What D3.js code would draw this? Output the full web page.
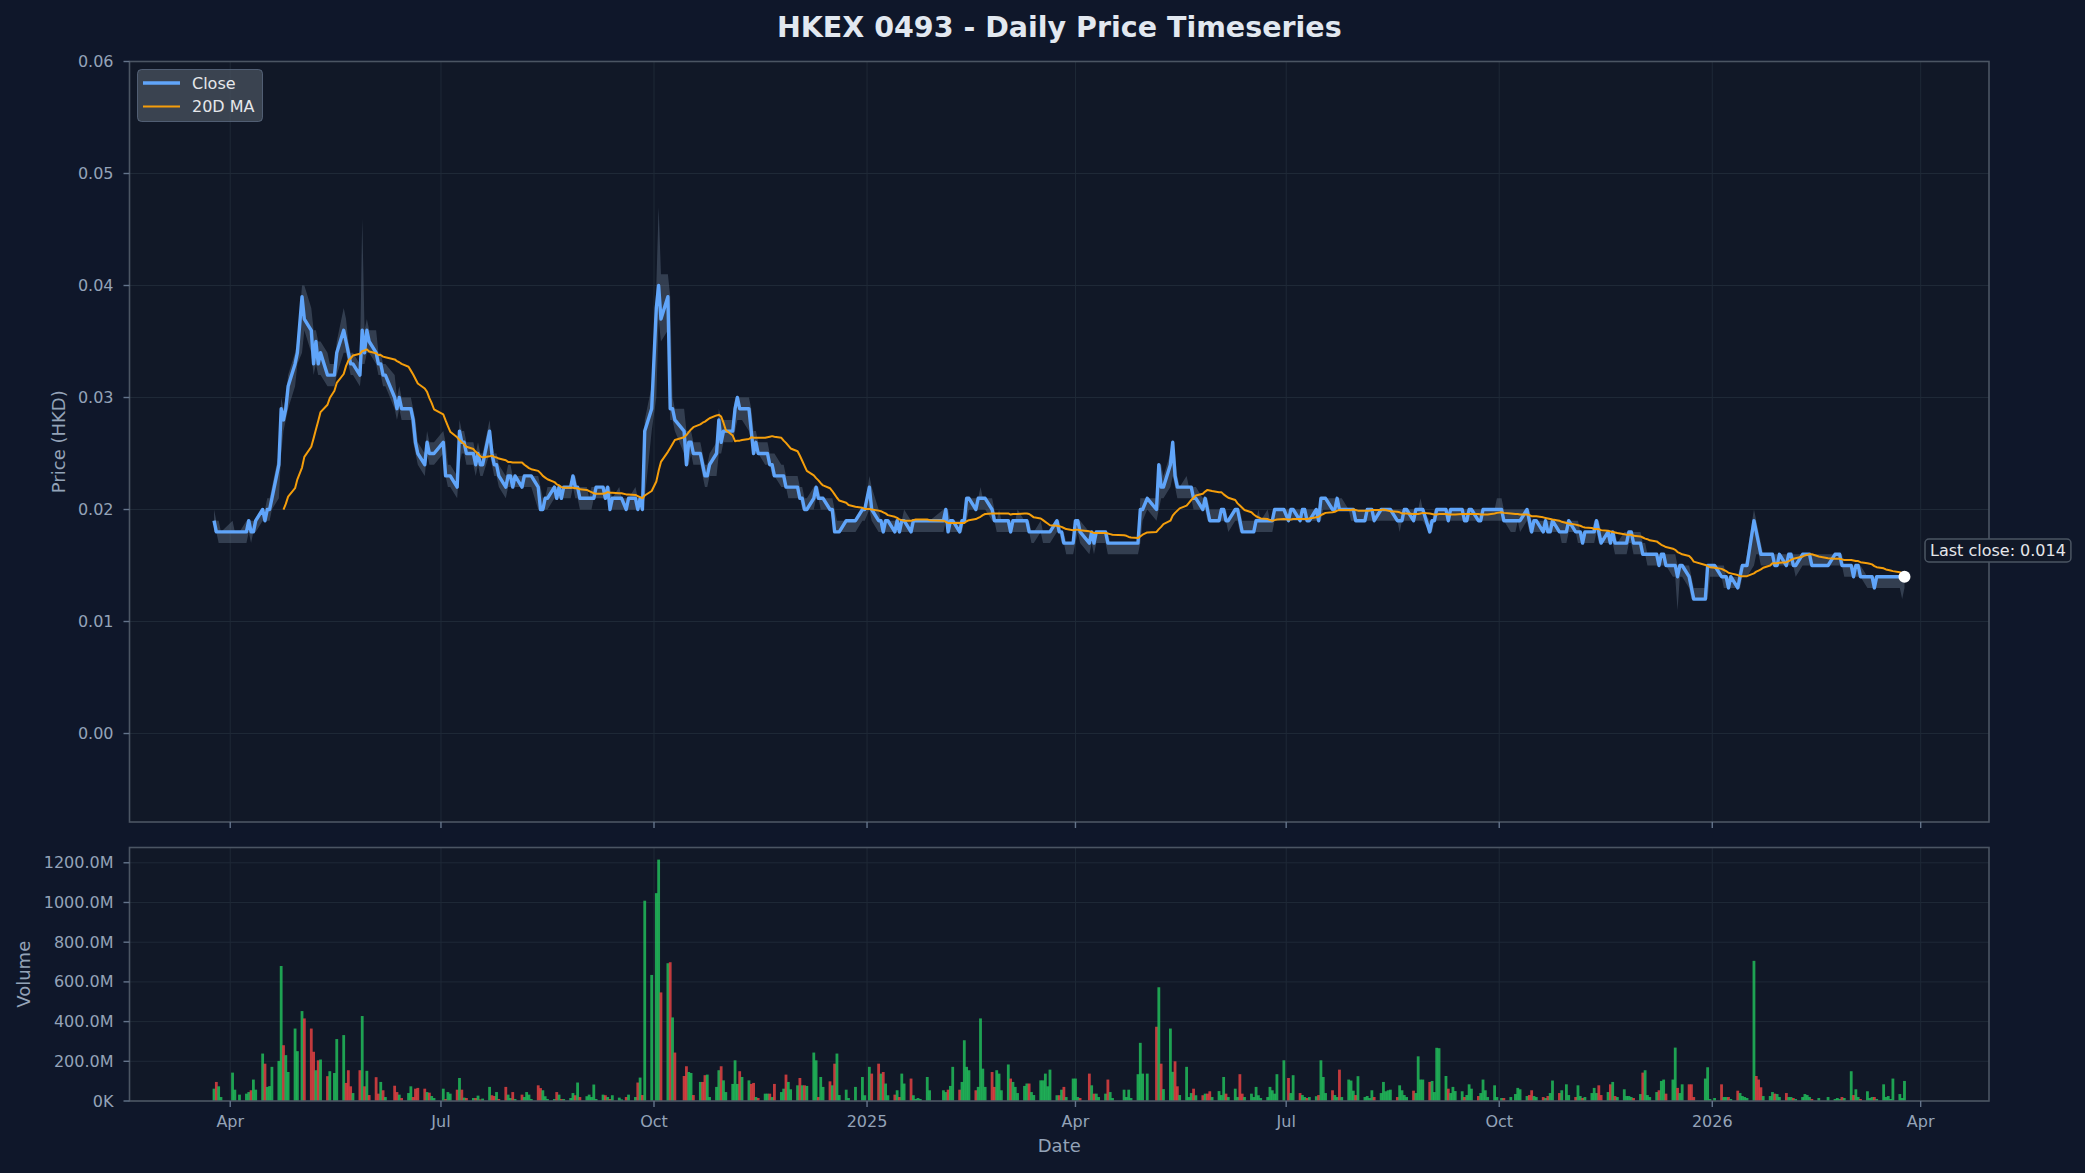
<!DOCTYPE html>
<html><head><meta charset="utf-8">
<script src="https://cdn.jsdelivr.net/npm/d3@7"></script>
<style>
html,body{margin:0;padding:0;background:#0f172a;}
svg{display:block;font-family:"DejaVu Sans",sans-serif;}
</style></head><body>
<svg id="chart" width="2085" height="1173"></svg>
<script>
// ---------------- DATA ----------------
const TITLE = "HKEX 0493 - Daily Price Timeseries";
const firstDay = "2024-03-25", lastDay = "2026-03-25";
const holidays = [
 "2024-03-29","2024-04-01","2024-04-04","2024-05-01","2024-05-15","2024-06-10","2024-07-01","2024-09-18","2024-10-01","2024-10-11","2024-12-25","2024-12-26",
 "2025-01-01","2025-01-29","2025-01-30","2025-01-31","2025-04-04","2025-04-18","2025-04-21","2025-05-01","2025-05-05","2025-07-01","2025-10-01","2025-10-07","2025-10-29","2025-12-25","2025-12-26",
 "2026-01-01","2026-02-17","2026-02-18","2026-02-19"];
// prices in thousandths of HKD (19 = 0.019)
const closeK = [
 19,18,18,18,
 18,18,18,18,19,18,18,19,20,19,20,20,21,24,29,28,29,31,33,34,
 39,37,36,33,35,33,34,32,32,32,34,36,35,34,33,33,32,36,34,36,35,
 34,33,33,32,32,30,29,30,29,29,29,28,26,25,24,26,25,25,25,
 26,23,23,23,22,27,26,26,25,25,24,25,24,24,27,25,24,24,23,22,23,23,
 22,23,22,23,23,23,23,22,20,20,21,21,22,21,22,21,22,22,23,22,22,21,
 21,21,21,21,22,22,21,22,20,21,21,21,20,21,21,20,21,20,27,29,
 38,40,37,39,29,29,28,27,24,26,26,25,25,24,23,23,24,25,28,26,27,
 27,27,29,30,29,29,29,27,25,26,25,25,25,24,24,23,23,23,22,22,22,
 22,21,21,20,20,21,22,21,21,21,20,20,18,18,18,19,19,19,20,20,
 22,20,19,19,18,19,19,18,19,18,19,19,18,19,19,19,19,19,19,
 19,20,18,19,19,18,19,19,21,21,20,21,21,21,21,20,19,19,19,19,
 19,18,19,19,19,19,19,18,18,18,18,18,18,18,18,19,18,18,17,17,17,
 19,19,18,17,18,17,18,18,18,17,17,17,17,17,17,17,17,20,20,
 21,20,24,22,22,24,26,23,22,22,22,22,22,21,21,20,21,20,19,19,
 19,20,20,19,19,20,20,19,18,18,18,18,19,19,19,19,19,19,20,20,20,
 19,20,20,19,20,20,19,19,20,19,21,21,21,20,20,21,20,20,20,20,20,19,
 19,19,20,20,20,19,20,20,20,20,20,19,19,19,20,20,19,20,20,20,20,
 18,19,19,20,20,20,19,20,20,20,20,19,19,20,20,19,19,20,20,20,20,20,
 20,19,19,19,19,19,20,19,18,19,19,18,19,18,18,19,18,18,18,19,
 18,18,18,17,18,18,18,19,18,17,18,17,18,17,17,17,17,18,18,17,
 17,16,16,16,16,16,15,16,16,15,15,15,14,15,15,14,13,12,12,15,15,
 15,14,14,14,13,14,13,14,15,15,15,19,18,17,16,16,16,16,15,15,16,
 15,16,16,15,15,16,16,16,16,15,15,15,16,16,16,15,15,
 15,14,15,15,14,14,14,14,13,14,14,14,14,14,14,14,14,14];
const highK = [
 20,19,19,18,
 19,18,18,19,19,19,19,19,20,20,21,21,22,25,30,29,30,32,34,35,
 40,40,38,36,36,35,35,34,33,33,35,38,37,35,34,34,33,46,36,37,36,
 36,34,34,33,33,32,30,31,30,30,30,29,28,26,25,27,26,26,26,
 27,26,24,24,23,28,27,27,26,26,25,26,25,25,28,26,25,25,24,23,24,24,
 23,23,23,23,23,23,23,23,22,21,21,22,22,22,22,22,22,22,23,23,22,22,
 22,21,22,22,22,22,22,22,22,21,22,21,21,21,22,21,21,21,28,31,
 40,47,41,41,39,30,29,29,27,27,27,26,26,25,24,24,25,26,29,28,28,
 28,28,30,30,30,30,30,29,27,27,26,26,26,25,25,25,24,24,23,23,23,
 23,22,22,21,21,22,22,22,21,21,21,21,20,19,19,19,19,19,20,20,
 23,22,20,19,19,19,19,19,19,19,19,20,19,19,19,19,19,19,19,
 20,20,20,19,19,19,19,20,21,21,21,21,22,21,21,21,20,19,20,19,
 19,19,19,19,20,19,19,19,18,18,19,18,18,18,18,19,19,18,18,17,17,
 19,19,19,18,18,18,18,18,18,18,17,17,17,17,17,17,17,21,21,
 21,21,24,24,23,25,26,25,23,22,23,22,22,22,22,21,21,21,20,20,
 20,20,20,20,19,20,20,20,19,19,19,19,19,20,19,20,19,19,20,20,20,
 20,20,20,20,20,20,20,20,20,20,21,21,21,21,21,21,21,21,20,20,20,20,
 20,20,20,20,20,20,20,20,20,20,20,20,20,20,20,20,20,20,20,21,20,
 19,19,20,20,20,20,20,20,20,20,20,20,20,20,20,20,20,20,20,20,20,21,
 21,20,20,20,20,20,20,20,19,19,19,19,19,19,19,19,19,19,19,19,
 19,19,18,18,18,18,19,19,19,18,18,18,18,18,17,18,18,18,18,18,
 18,17,17,16,16,16,16,16,16,16,16,16,15,15,15,15,14,13,13,15,15,
 15,15,15,14,14,14,14,15,15,15,16,20,19,18,17,16,16,16,16,16,16,
 16,16,16,16,16,16,16,16,16,16,16,16,16,16,16,16,15,
 15,15,15,15,15,14,14,14,14,14,14,14,14,14,14,14,14,14];
const lowK = [
 18,18,17,17,
 17,17,17,17,18,17,18,18,19,19,19,19,20,21,25,27,28,29,31,33,
 34,36,34,32,33,32,32,31,31,31,32,34,34,33,32,32,31,33,33,34,34,
 33,32,32,31,31,29,28,29,28,28,28,26,25,24,23,25,24,24,24,
 25,23,22,22,21,24,25,25,24,24,23,24,23,23,25,24,23,23,22,21,22,22,
 22,22,22,22,22,22,22,20,20,20,20,20,21,21,21,21,21,21,22,21,21,20,
 20,20,20,21,21,21,21,21,20,20,20,20,20,20,20,20,20,20,21,27,
 30,37,35,36,28,28,27,25,24,24,25,24,24,23,22,22,23,23,25,25,26,
 26,26,27,28,28,28,27,26,25,25,25,24,24,24,23,23,22,22,22,21,21,
 21,21,20,20,20,20,21,21,20,20,20,19,18,18,18,18,18,18,19,19,
 20,19,18,18,18,18,18,18,18,18,18,18,18,18,18,18,18,18,18,
 18,19,18,18,18,18,18,19,19,20,20,20,20,20,20,19,19,18,18,18,
 18,18,18,18,18,18,18,18,17,17,18,17,17,17,17,18,18,17,17,16,16,
 17,18,17,16,17,16,17,17,17,16,16,16,16,16,16,16,16,17,19,
 20,19,20,21,21,22,23,22,21,21,21,21,21,20,20,20,20,19,19,19,
 19,19,19,19,18,19,19,18,18,18,18,18,18,18,18,18,18,18,19,19,19,
 19,19,19,19,19,19,19,19,19,19,19,20,20,20,20,20,20,20,20,19,19,19,
 19,19,19,19,19,19,19,19,19,19,19,19,18,19,19,19,19,19,19,19,19,
 18,18,19,19,19,19,19,19,19,19,19,19,19,19,19,19,19,19,19,19,19,19,
 19,19,18,18,19,18,19,18,18,18,18,18,18,18,18,18,18,17,17,18,
 18,17,17,17,17,17,17,18,17,17,17,17,17,16,16,16,16,17,17,16,
 16,16,16,15,15,15,15,15,15,15,14,14,11,14,14,13,12,12,12,12,14,
 14,14,13,13,13,13,13,13,14,14,14,15,16,16,15,15,15,15,15,15,15,
 15,15,15,15,14,15,15,15,15,15,15,15,15,15,15,15,14,
 14,14,14,14,14,13,13,13,13,13,13,13,13,13,13,13,12,13];
// daily volume in millions of shares
const volumeM = [
 62,96,74,20,
 143,57,32,37,45,54,108,57,239,188,71,75,172,202,680,281,231,146,365,251,
 453,416,365,248,155,205,209,125,150,141,312,332,91,155,74,40,155,428,74,152,30,
 120,37,96,54,20,77,45,32,15,40,74,20,62,66,62,45,42,25,15,
 62,10,45,37,57,116,57,17,15,15,15,27,8,12,71,29,25,45,10,71,32,15,
 45,10,32,20,45,32,10,79,65,54,24,10,10,45,32,10,10,15,40,29,93,20,
 24,32,20,83,10,32,29,20,10,29,17,8,20,32,20,93,118,30,1009,635,
 1047,1216,547,694,699,421,244,126,175,146,141,30,96,96,130,133,20,71,155,175,104,
 45,86,205,86,150,121,104,86,91,20,15,37,37,37,20,86,45,62,133,96,59,
 79,116,79,79,76,244,205,20,121,71,99,79,188,239,30,57,15,71,121,29,
 172,138,188,138,146,88,29,32,54,20,138,88,113,29,10,15,10,121,54,
 54,45,57,76,172,57,96,306,172,155,54,71,416,163,71,146,71,155,138,54,
 184,113,96,71,40,76,88,88,45,30,104,104,138,74,158,29,29,57,71,20,113,
 113,20,15,138,79,37,37,20,37,108,45,15,57,20,57,15,135,293,138,
 138,374,573,188,60,365,147,200,74,30,172,20,40,62,29,29,37,37,49,20,
 50,30,121,37,20,62,20,135,37,20,37,20,71,29,15,20,71,54,37,135,205,
 116,40,130,40,30,20,15,20,24,30,205,121,40,54,30,20,158,20,108,103,52,30,
 125,20,25,15,54,20,40,96,49,54,57,20,79,54,30,20,52,40,225,108,108,
 96,101,45,268,266,126,62,40,71,50,49,20,30,84,62,25,40,108,54,20,79,20,
 15,15,20,35,66,59,25,30,54,25,20,20,15,25,40,103,40,54,84,30,
 20,79,25,15,20,40,66,40,79,30,45,84,96,25,20,59,25,25,20,15,
 35,143,155,30,20,45,54,101,108,37,108,269,66,40,84,84,84,20,113,170,10,
 15,84,20,20,20,10,52,40,25,20,15,706,126,108,69,25,25,45,37,35,20,
 40,20,20,15,10,20,35,30,20,10,15,20,10,15,10,20,15,
 150,30,59,20,10,49,15,20,20,10,84,20,25,10,113,35,15,101];
const priceTicks = [0, 0.01, 0.02, 0.03, 0.04, 0.05, 0.06];
const volumeTicksM = [0, 200, 400, 600, 800, 1000, 1200];
const seriesNames = ["Close", "20D MA"];
const maWindow = 20;

// ---------------- BUILD ----------------
const hol = new Set(holidays);
const dates = [];
for (let t = new Date(firstDay + "T00:00:00Z"); t <= new Date(lastDay + "T00:00:00Z"); t = new Date(t.getTime() + 864e5)) {
  const wd = t.getUTCDay();
  if (wd === 0 || wd === 6) continue;
  if (hol.has(t.toISOString().slice(0, 10))) continue;
  dates.push(new Date(t));
}
const n = Math.min(dates.length, closeK.length, highK.length, lowK.length, volumeM.length);
const data = d3.range(n).map(i => ({
  date: dates[i], close: closeK[i] / 1000, high: highK[i] / 1000, low: lowK[i] / 1000,
  vol: volumeM[i] * 1e6, up: i === 0 ? true : closeK[i] >= closeK[i - 1]
}));
data.forEach((d, i) => { if (i >= maWindow - 1) d.ma = d3.mean(data.slice(i - maWindow + 1, i + 1), e => e.close); });

const L = 129.5, R = 1989, pT = 61.5, pB = 822, vT = 847.5, vB = 1101;
const span = data[n - 1].date - data[0].date;
const x = d3.scaleUtc().domain([new Date(+data[0].date - span * 0.05), new Date(+data[n - 1].date + span * 0.05)]).range([L, R]);
const y = d3.scaleLinear().domain([-0.0079, 0.06]).range([pB, pT]);
const yv = d3.scaleLinear().domain([0, 1277e6]).range([vB, vT]);

const svg = d3.select("#chart");
svg.append("rect").attr("width", 2085).attr("height", 1173).attr("fill", "#0f172a");
svg.append("rect").attr("x", L).attr("y", pT).attr("width", R - L).attr("height", pB - pT).attr("fill", "#111827");
svg.append("rect").attr("x", L).attr("y", vT).attr("width", R - L).attr("height", vB - vT).attr("fill", "#111827");

const defs = svg.append("defs");
defs.append("clipPath").attr("id", "clipP").append("rect").attr("x", L).attr("y", pT).attr("width", R - L).attr("height", pB - pT);
defs.append("clipPath").attr("id", "clipV").append("rect").attr("x", L).attr("y", vT).attr("width", R - L).attr("height", vB - vT);

const xTicks = x.ticks(d3.utcMonth.every(3));
const fmtX = d => d.getUTCMonth() === 0 ? d3.utcFormat("%Y")(d) : d3.utcFormat("%b")(d);
const gridCol = "#1f2937", spineCol = "#4b5563", tickCol = "#64748b", labCol = "#94a3b8";

// grids
const g = svg.append("g");
xTicks.forEach(t => {
  g.append("line").attr("x1", x(t)).attr("x2", x(t)).attr("y1", pT).attr("y2", pB).attr("stroke", gridCol).attr("stroke-width", 1);
  g.append("line").attr("x1", x(t)).attr("x2", x(t)).attr("y1", vT).attr("y2", vB).attr("stroke", gridCol).attr("stroke-width", 1);
});
priceTicks.forEach(v => g.append("line").attr("x1", L).attr("x2", R).attr("y1", y(v)).attr("y2", y(v)).attr("stroke", gridCol).attr("stroke-width", 1));
volumeTicksM.forEach(v => g.append("line").attr("x1", L).attr("x2", R).attr("y1", yv(v * 1e6)).attr("y2", yv(v * 1e6)).attr("stroke", gridCol).attr("stroke-width", 1));

// price band, close, MA
const pg = svg.append("g").attr("clip-path", "url(#clipP)");
pg.append("path").datum(data)
  .attr("d", d3.area().x(d => x(d.date)).y0(d => y(d.low)).y1(d => y(d.high)))
  .attr("fill", "#64748b").attr("opacity", 0.42);
pg.append("path").datum(data)
  .attr("d", d3.line().x(d => x(d.date)).y(d => y(d.close)))
  .attr("fill", "none").attr("stroke", "#60a5fa").attr("stroke-width", 3.4).attr("stroke-linejoin", "round");
pg.append("path").datum(data.filter(d => d.ma !== undefined))
  .attr("d", d3.line().x(d => x(d.date)).y(d => y(d.ma)))
  .attr("fill", "none").attr("stroke", "#f59e0b").attr("stroke-width", 2).attr("stroke-linejoin", "round");

// volume bars
const vg = svg.append("g").attr("clip-path", "url(#clipV)");
const bw = 2.8;
vg.selectAll("rect").data(data).join("rect")
  .attr("x", d => x(d.date) - bw / 2).attr("width", bw)
  .attr("y", d => yv(d.vol)).attr("height", d => vB - yv(d.vol))
  .attr("fill", d => d.up ? "#22c55e" : "#ef4444").attr("opacity", 0.8);

// spines
[[pT, pB], [vT, vB]].forEach(([t, b]) => svg.append("rect").attr("x", L).attr("y", t).attr("width", R - L).attr("height", b - t)
  .attr("fill", "none").attr("stroke", spineCol).attr("stroke-width", 1.6));

// ticks & labels
const txt = (sel) => sel.attr("font-size", 16).attr("fill", labCol);
priceTicks.forEach(v => {
  svg.append("line").attr("x1", L - 6).attr("x2", L).attr("y1", y(v)).attr("y2", y(v)).attr("stroke", tickCol).attr("stroke-width", 1.4);
  txt(svg.append("text")).attr("x", L - 16).attr("y", y(v)).attr("text-anchor", "end").attr("dominant-baseline", "central").text(d3.format(".2f")(v));
});
volumeTicksM.forEach(v => {
  svg.append("line").attr("x1", L - 6).attr("x2", L).attr("y1", yv(v * 1e6)).attr("y2", yv(v * 1e6)).attr("stroke", tickCol).attr("stroke-width", 1.4);
  txt(svg.append("text")).attr("x", L - 16).attr("y", yv(v * 1e6)).attr("text-anchor", "end").attr("dominant-baseline", "central")
    .text(v === 0 ? "0K" : v.toFixed(1) + "M");
});
xTicks.forEach(t => {
  svg.append("line").attr("x1", x(t)).attr("x2", x(t)).attr("y1", pB).attr("y2", pB + 6).attr("stroke", tickCol).attr("stroke-width", 1.4);
  svg.append("line").attr("x1", x(t)).attr("x2", x(t)).attr("y1", vB).attr("y2", vB + 6).attr("stroke", tickCol).attr("stroke-width", 1.4);
  txt(svg.append("text")).attr("x", x(t)).attr("y", vB + 26).attr("text-anchor", "middle").text(fmtX(t));
});

// axis titles
const cx = (L + R) / 2;
svg.append("text").attr("x", cx).attr("y", 37).attr("text-anchor", "middle").attr("font-size", 28.5).attr("font-weight", "bold").attr("fill", "#e2e8f0").text(TITLE);
svg.append("text").attr("x", cx).attr("y", 1152).attr("text-anchor", "middle").attr("font-size", 18).attr("fill", labCol).text("Date");
svg.append("text").attr("transform", `translate(58,${(pT + pB) / 2}) rotate(-90)`).attr("text-anchor", "middle").attr("dominant-baseline", "central").attr("font-size", 18).attr("fill", labCol).text("Price (HKD)");
svg.append("text").attr("transform", `translate(23,${(vT + vB) / 2}) rotate(-90)`).attr("text-anchor", "middle").attr("dominant-baseline", "central").attr("font-size", 18).attr("fill", labCol).text("Volume");

// legend
const lg = svg.append("g");
lg.append("rect").attr("x", 137.5).attr("y", 69.5).attr("width", 125).attr("height", 52).attr("rx", 4)
  .attr("fill", "#4b5563").attr("fill-opacity", 0.7).attr("stroke", "#64748b").attr("stroke-opacity", 0.7);
[[seriesNames[0], "#60a5fa", 3.4, 83], [seriesNames[1], "#f59e0b", 2, 106.5]].forEach(([name, col, w, yy]) => {
  lg.append("line").attr("x1", 143).attr("x2", 180).attr("y1", yy).attr("y2", yy).attr("stroke", col).attr("stroke-width", w);
  lg.append("text").attr("x", 192).attr("y", yy).attr("dominant-baseline", "central").attr("font-size", 16).attr("fill", "#e5e7eb").text(name);
});

// last close marker + annotation
const last = data[n - 1];
svg.append("circle").attr("cx", x(last.date)).attr("cy", y(last.close)).attr("r", 6).attr("fill", "#ffffff");
const ag = svg.append("g");
const at = ag.append("text").attr("x", 1930).attr("y", 556).attr("font-size", 16).attr("fill", "#e5e7eb").text("Last close: " + d3.format(".3f")(last.close));
const bb = at.node().getBBox();
ag.insert("rect", "text").attr("x", bb.x - 5).attr("y", 539).attr("width", bb.width + 10).attr("height", 23).attr("rx", 4)
  .attr("fill", "#111827").attr("stroke", "#4b5563").attr("stroke-width", 1.5);
</script>
</body></html>
